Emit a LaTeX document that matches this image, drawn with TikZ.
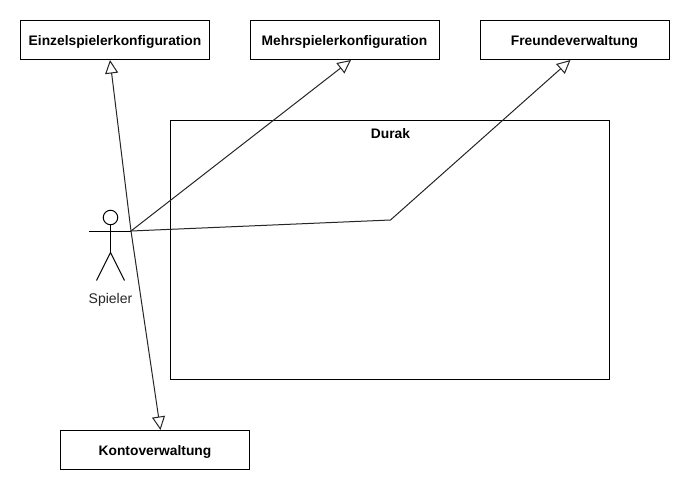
\documentclass[tikz,border=0pt]{standalone}
\usepackage{fontspec}
\setmainfont{Liberation Sans}
\usetikzlibrary{arrows.meta,positioning}
\tikzset{
  usecase/.style={draw=black,line width=1pt,fill=white,minimum width=189pt,minimum height=39pt,inner sep=0pt,text height=10pt,text depth=0pt,font=\fontsize{13.8}{15}\selectfont\bfseries,text=black},
  assoc/.style={draw=black!85,line width=1pt,-{Triangle[open,fill=white,length=13.5pt,width=13pt,line width=1pt]}},
  stick/.style={draw=black,line width=1pt},
  plainlabel/.style={inner sep=0pt,anchor=base,font=\fontsize{14}{15}\selectfont,text=black!85}
}
\begin{document}
\begin{tikzpicture}[x=1pt,y=-1pt]
\useasboundingbox (0,0) rectangle (690,490);
\fill[white] (0,0) rectangle (690,490);
\node[draw=black,line width=1pt,minimum width=439pt,minimum height=259pt,inner sep=0pt] (system) at (390,250) {};
\node[inner sep=0pt,anchor=base,font=\fontsize{13.8}{15}\selectfont\bfseries] (systemlabel) at (390.5,138) {Durak};
\node[usecase] (einzel) at (115,40) {Einzelspielerkonfiguration};
\node[usecase] (mehr) at (344.5,40) {Mehrspielerkonfiguration};
\node[usecase] (freunde) at (574.5,40) {Freundeverwaltung};
\node[usecase] (konto) at (155,450) {Kontoverwaltung};
% actor
\node[circle,draw=black,line width=1pt,minimum size=14.5pt,inner sep=0pt] (head) at (110.5,217.5) {};
\coordinate (neck) at (110.5,231);
\coordinate (hip) at (110.5,252.5);
\coordinate (lefthand) at (89,231);
\coordinate (hand) at (131,231);
\coordinate (leftfoot) at (96.5,280.5);
\coordinate (rightfoot) at (124.5,280.5);
\draw[stick] (head.south) -- (hip);
\draw[stick] (lefthand) -- (hand);
\draw[stick] (leftfoot) -- (hip) -- (rightfoot);
\node[plainlabel] (spieler) at (110.5,303) {Spieler};
% connector ends
\coordinate (einzelend) at (110,60);
\coordinate (kontoend) at (160.5,430);
\coordinate (mehrend) at (351,60);
\coordinate (freundeend) at (570.5,60);
\coordinate (bend) at (390.5,220);
\draw[assoc] (hand) -- (einzelend);
\draw[assoc] (hand) -- (kontoend);
\draw[assoc] (hand) -- (mehrend);
\draw[assoc] (hand) -- (bend) -- (freundeend);
\end{tikzpicture}
\end{document}
